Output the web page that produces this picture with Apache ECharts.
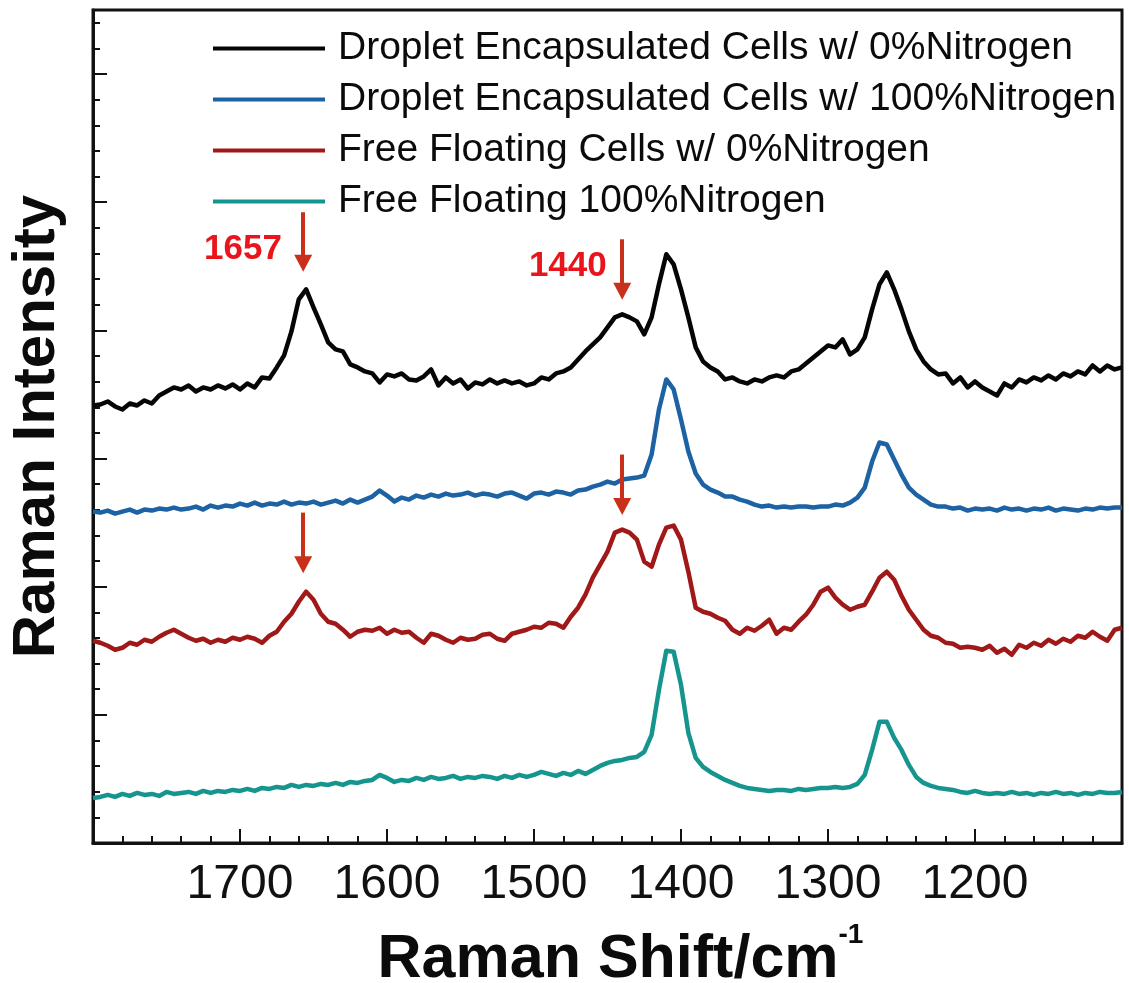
<!DOCTYPE html>
<html>
<head>
<meta charset="utf-8">
<title>Raman spectra</title>
<script src="https://cdn.jsdelivr.net/npm/echarts@6/dist/echarts.min.js"></script>
<style>
  html, body { margin: 0; padding: 0; background: #ffffff; }
  #chart { width: 1129px; height: 983px; }
</style>
</head>
<body>
<div id="chart"></div>
<script>
// Raman shift (cm^-1), high to low
const shifts = [
  1800, 1795, 1790, 1785, 1780, 1775, 1770, 1765, 1760, 1755,
  1750, 1745, 1740, 1735, 1730, 1725, 1720, 1715, 1710, 1705,
  1700, 1695, 1690, 1685, 1680, 1675, 1670, 1665, 1660, 1655,
  1650, 1645, 1640, 1635, 1630, 1625, 1620, 1615, 1610, 1605,
  1600, 1595, 1590, 1585, 1580, 1575, 1570, 1565, 1560, 1555,
  1550, 1545, 1540, 1535, 1530, 1525, 1520, 1515, 1510, 1505,
  1500, 1495, 1490, 1485, 1480, 1475, 1470, 1465, 1460, 1455,
  1450, 1445, 1440, 1435, 1430, 1425, 1420, 1415, 1410, 1405,
  1400, 1395, 1390, 1385, 1380, 1375, 1370, 1365, 1360, 1355,
  1350, 1345, 1340, 1335, 1330, 1325, 1320, 1315, 1310, 1305,
  1300, 1295, 1290, 1285, 1280, 1275, 1270, 1265, 1260, 1255,
  1250, 1245, 1240, 1235, 1230, 1225, 1220, 1215, 1210, 1205,
  1200, 1195, 1190, 1185, 1180, 1175, 1170, 1165, 1160, 1155,
  1150, 1145, 1140, 1135, 1130, 1125, 1120, 1115, 1110, 1105,
  1100
];

// Intensities (arbitrary units, traces stacked with offsets)
const dropletN0 = [
  437, 438, 441, 436, 433, 439, 437, 442, 439, 447,
  451, 455, 453, 457, 451, 455, 453, 457, 454, 458,
  453, 459, 455, 465, 464, 475, 487, 511, 543, 553,
  535, 518, 500, 493, 491, 478, 475, 471, 469, 460,
  468, 466, 469, 463, 462, 466, 473, 457, 465, 459,
  463, 454, 460, 458, 463, 459, 462, 459, 461, 457,
  459, 465, 463, 469, 471, 475, 483, 491, 498, 505,
  515, 525, 528, 525, 521, 508, 525, 558, 588, 578,
  553, 525, 495, 481, 475, 471, 463, 465, 461, 459,
  463, 461, 465, 467, 465, 471, 473, 479, 485, 491,
  497, 495, 503, 488, 493, 505, 533, 558, 570, 553,
  533, 511, 493, 481, 473, 468, 469, 459, 465, 455,
  461, 455, 451, 447, 459, 455, 463, 460, 465, 462,
  467, 463, 469, 466, 471, 468, 477, 471, 477, 473,
  475
];

const dropletN100 = [
  331, 330, 332, 329, 331, 333, 330, 333, 332, 334,
  333, 335, 333, 334, 336, 333, 337, 335, 337, 336,
  339, 337, 340, 337, 339, 338, 341, 338, 340, 339,
  341, 338, 340, 342, 339, 343, 340, 343, 346, 352,
  347, 341, 345, 343, 347, 345, 348, 346, 349, 347,
  348, 350, 347, 349, 348, 346, 349, 350, 347, 344,
  349, 350, 348, 351, 350, 348, 352, 353, 356, 358,
  361, 359, 363, 364, 365, 367, 388, 433, 463, 453,
  423, 391, 369, 358, 353, 350, 346, 346, 343, 341,
  338, 336, 337, 335, 336, 335, 336, 336, 335, 336,
  336, 338, 337, 340, 345, 355, 381, 400, 398, 383,
  368, 355, 348, 343, 338, 336, 336, 334, 335, 332,
  334, 333, 334, 332, 335, 333, 334, 332, 334, 333,
  335, 332, 334, 333, 332, 334, 333, 335, 334, 335,
  335
];

const freeN0 = [
  202, 200, 197, 193, 195, 200, 198, 203, 201, 206,
  210, 213, 209, 205, 202, 204, 200, 203, 201, 205,
  203, 206, 204, 200, 207, 211, 221, 229, 241, 251,
  243, 229, 221, 219, 213, 206, 211, 213, 212, 215,
  209, 213, 210, 211, 205, 200, 209, 207, 203, 200,
  205, 203, 204, 208, 209, 204, 202, 209, 211, 213,
  216, 215, 220, 219, 215, 226, 235, 248, 265, 278,
  291, 310, 313, 310, 303, 281, 276, 298, 315, 317,
  303, 271, 235, 231, 229, 225, 222, 213, 209, 215,
  212, 217, 223, 209, 215, 213, 221, 228, 238, 251,
  255, 245, 238, 233, 236, 238, 251, 265, 271, 263,
  247, 233, 223, 213, 207, 205, 200, 199, 195, 196,
  195, 193, 197, 190, 194, 188, 198, 195, 200, 197,
  203, 199, 204, 201, 207, 205, 211, 206, 202, 213,
  215
];

const freeN100 = [
  45, 46, 48, 46, 49, 47, 50, 48, 49, 47,
  51, 49, 50, 51, 49, 52, 50, 52, 51, 53,
  52, 54, 52, 55, 54, 56, 55, 58, 56, 58,
  57, 59, 58, 60, 58, 61, 60, 62, 63, 68,
  65, 61, 63, 62, 65, 63, 66, 64, 65, 67,
  64, 66, 65, 67, 66, 64, 67, 65, 68, 66,
  68, 71, 69, 67, 70, 68, 72, 69, 73, 77,
  80, 82, 83, 85, 86, 91, 108, 153, 192, 191,
  158, 110, 85, 76, 71, 67, 63, 60, 57, 55,
  54, 53, 52, 53, 53, 52, 54, 53, 54, 55,
  55, 56, 55, 56, 59, 68, 93, 121, 121, 105,
  93, 78, 66, 60, 57, 55, 54, 53, 51, 50,
  52, 50, 49, 50, 49, 51, 49, 50, 48, 50,
  49, 51, 49, 50, 48, 50, 49, 51, 50, 50,
  51
];

const seriesNames = [
  'Droplet Encapsulated Cells w/ 0%Nitrogen',
  'Droplet Encapsulated Cells w/ 100%Nitrogen',
  'Free Floating Cells w/ 0%Nitrogen',
  'Free Floating 100%Nitrogen'
];
const seriesColors = ['#050505', '#1d62a3', '#a01818', '#16958f'];
const seriesValues = [dropletN0, dropletN100, freeN0, freeN100];

// Band markers: arrow from "top" down to "tip" at the marked shift
const bandMarks = [
  { shift: 1657, top: 630, tip: 579, labelShift: 1698, labelY: 593 },
  { shift: 1440, top: 603, tip: 551, labelShift: 1477, labelY: 576 },
  { shift: 1440, top: 388, tip: 336 },
  { shift: 1657, top: 330, tip: 278 }
];

const FONT = '"Liberation Sans", Arial, Helvetica, sans-serif';
const arrowColor = '#c9301c';

const chart = echarts.init(document.getElementById('chart'), null, { renderer: 'canvas' });

const lineSeries = seriesNames.map((name, k) => ({
  name: name,
  type: 'line',
  data: shifts.map((s, i) => [s, seriesValues[k][i]]),
  showSymbol: false,
  symbol: 'none',
  lineStyle: { color: seriesColors[k], width: 4.5, join: 'round' },
  itemStyle: { color: seriesColors[k] },
  animation: false,
  z: 3 + k
}));

const annotationSeries = {
  name: 'bands',
  type: 'line',
  data: [],
  animation: false,
  silent: true,
  z: 10,
  markLine: {
    silent: true,
    animation: false,
    symbol: ['none', 'triangle'],
    symbolSize: [18, 17],
    label: { show: false },
    lineStyle: { color: arrowColor, width: 4, type: 'solid' },
    emphasis: { disabled: true },
    data: bandMarks.map(m => [
      { coord: [m.shift, m.top] },
      { coord: [m.shift, m.tip] }
    ])
  },
  markPoint: {
    silent: true,
    animation: false,
    symbol: 'circle',
    symbolSize: 0,
    label: {
      show: true,
      position: 'inside',
      formatter: '{b}',
      color: '#e8161c',
      fontFamily: FONT,
      fontWeight: 'bold',
      fontSize: 35
    },
    data: bandMarks.filter(m => m.labelShift).map(m => ({
      name: String(m.shift),
      coord: [m.labelShift, m.labelY]
    }))
  }
};

const option = {
  backgroundColor: '#ffffff',
  animation: false,
  grid: {
    left: 93, right: 7, top: 10, bottom: 140,
    outerBoundsMode: 'none',
    containLabel: false,
    show: true, borderColor: '#111111', borderWidth: 3,
    backgroundColor: 'transparent'
  },
  legend: {
    data: seriesNames,
    orient: 'vertical',
    left: 213,
    top: 29,
    padding: 0,
    icon: 'rect',
    itemWidth: 112,
    itemHeight: 4,
    itemGap: 12,
    textStyle: {
      fontFamily: FONT,
      fontSize: 39,
      lineHeight: 39,
      color: '#0b0b0b',
      padding: [0, 0, 0, 8]
    },
    selectedMode: false
  },
  xAxis: {
    type: 'value',
    inverse: true,
    min: 1100,
    max: 1800,
    interval: 100,
    axisLine: { show: true, lineStyle: { color: '#111111', width: 3 } },
    axisTick: { show: true, inside: true, length: 14, lineStyle: { color: '#111111', width: 2 } },
    minorTick: { show: true, splitNumber: 5, length: 7, lineStyle: { color: '#111111', width: 2 } },
    splitLine: { show: false },
    axisLabel: {
      show: true,
      margin: 18,
      color: '#111111',
      fontFamily: FONT,
      fontSize: 48,
      showMinLabel: false,
      showMaxLabel: false,
      formatter: v => (v > 1100 && v < 1800 ? String(v) : '')
    },
    name: '{a|Raman Shift/cm}{b|-1}',
    nameLocation: 'middle',
    nameGap: 78,
    nameTextStyle: {
      rich: {
        a: { fontFamily: FONT, fontWeight: 'bold', fontSize: 61, color: '#0b0b0b', lineHeight: 70, padding: [0, 0, 0, 26] },
        b: { fontFamily: FONT, fontWeight: 'bold', fontSize: 28, color: '#0b0b0b', padding: [0, 0, 50, 0] }
      }
    }
  },
  yAxis: {
    type: 'value',
    min: 0,
    max: 832,
    interval: 128,
    axisLine: { show: true, lineStyle: { color: '#111111', width: 3 } },
    axisTick: { show: true, inside: true, length: 14, lineStyle: { color: '#111111', width: 2 } },
    minorTick: { show: true, splitNumber: 5, length: 7, lineStyle: { color: '#111111', width: 2 } },
    splitLine: { show: false },
    axisLabel: { show: false },
    name: 'Raman Intensity',
    nameLocation: 'middle',
    nameRotate: 90,
    nameGap: 26,
    nameTextStyle: { fontFamily: FONT, fontWeight: 'bold', fontSize: 60, color: '#0b0b0b' }
  },
  series: lineSeries.concat([annotationSeries])
};

chart.setOption(option);
</script>
</body>
</html>
